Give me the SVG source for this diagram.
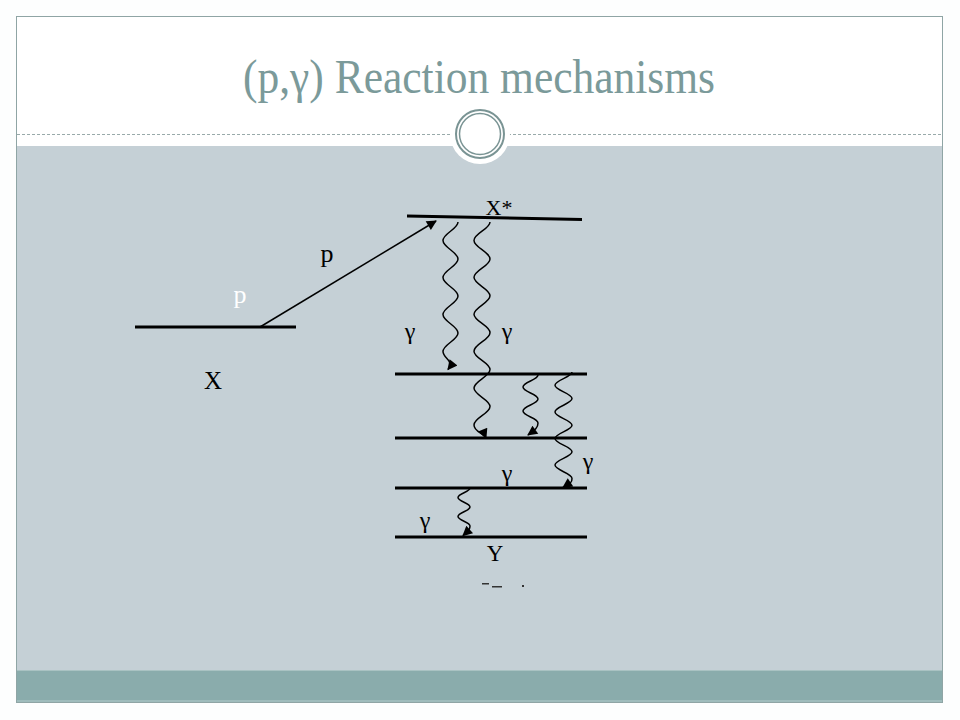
<svg xmlns="http://www.w3.org/2000/svg" width="960" height="720" viewBox="0 0 960 720">
<defs>
<style>
.lvl{stroke:#000;stroke-width:3;fill:none}
.wave{stroke:#000;stroke-width:1.5;fill:none;marker-end:url(#ah)}
.lbl{font-family:"Liberation Serif","Times New Roman",serif;fill:#000;text-anchor:middle}
.gam{font-family:"Liberation Serif","Times New Roman",serif;fill:#000;text-anchor:middle}
</style>
<marker id="ah" viewBox="0 0 10 10" refX="9" refY="5" markerWidth="14" markerHeight="10" markerUnits="userSpaceOnUse" orient="auto"><path d="M0,0 L10,5 L0,10 z" fill="#000"/></marker>
</defs>
<rect x="0" y="0" width="960" height="720" fill="#fdfefe"/>
<g id="frame">
<rect x="16" y="16" width="927" height="130" fill="#ffffff"/>
<rect x="16" y="146" width="927" height="524" fill="#c5d0d6"/>
<rect x="16" y="670" width="927" height="32" fill="#8aacac"/>
<line x1="16" y1="670.5" x2="943" y2="670.5" stroke="#a9c2c2" stroke-width="1"/>
<line x1="16" y1="701" x2="943" y2="701" stroke="#b4cccc" stroke-width="1"/>
<rect x="16.5" y="16.5" width="926" height="686" fill="none" stroke="#8fa5a5" stroke-width="1"/>
<line x1="17" y1="134.5" x2="452" y2="134.5" stroke="#9aa" stroke-width="1" stroke-dasharray="3,2"/>
<line x1="508" y1="134.5" x2="942" y2="134.5" stroke="#9aa" stroke-width="1" stroke-dasharray="3,2"/>
<circle cx="480" cy="134" r="30" fill="#ffffff"/>
<circle cx="480" cy="134" r="24" fill="none" stroke="#7a9494" stroke-width="2"/>
<circle cx="480" cy="134" r="20.5" fill="none" stroke="#7a9494" stroke-width="1.5"/>
</g>
<text id="title" x="479" y="93" font-family="Liberation Serif, Times New Roman, serif" font-size="48" fill="#7b9a9a" text-anchor="middle" textLength="472" lengthAdjust="spacingAndGlyphs">(p,γ) Reaction mechanisms</text>
<g id="level-X"><line class="lvl" x1="135" y1="327" x2="296" y2="327"/><text class="lbl" x="213" y="389" font-size="25">X</text></g>
<g id="level-Xstar"><line class="lvl" x1="407" y1="216" x2="582" y2="219.5"/><text class="lbl" x="499" y="215" font-size="22">X*</text></g>
<g id="level-2"><line class="lvl" x1="395" y1="374" x2="587" y2="374"/></g>
<g id="level-3"><line class="lvl" x1="395" y1="438" x2="587" y2="438"/></g>
<g id="level-4"><line class="lvl" x1="395" y1="488" x2="587" y2="488"/></g>
<g id="level-Y"><line class="lvl" x1="395" y1="537" x2="587" y2="537"/><text class="lbl" x="495" y="561" font-size="23">Y</text></g>
<g id="connectors">
<line x1="260" y1="327" x2="436" y2="221" stroke="#000" stroke-width="1.5" marker-end="url(#ah)"/>
<path class="wave" d="M458,222 c0,7 -15,11.5 -15,18.5 s15,11.5 15,18.5 s-15,11.5 -15,18.5 s15,11.5 15,18.5 s-15,11.5 -15,18.5 s15,11.5 15,18.5 s-15,11.5 -15,18.5 s12,9 5,18"/>
<path class="wave" d="M490,222 c0,7 -16,11.45 -16,18.45 s16,11.45 16,18.45 s-16,11.45 -16,18.45 s16,11.45 16,18.45 s-16,11.45 -16,18.45 s16,11.45 16,18.45 s-16,11.45 -16,18.45 s16,11.45 16,18.45 s-16,11.45 -16,18.45 s16,11.45 16,18.45 s-16,11.45 -16,18.45 s10,8 12,13"/>
<path class="wave" d="M538,375 c0,5 -15,7 -15,12 s15,7 15,12 s-15,7 -15,12 s15,7 15,12 s-3,7 -10,12"/>
<path class="wave" d="M572,372 c0,5 -17,8.3 -17,13.3 s17,8.3 17,13.3 s-17,8.3 -17,13.3 s17,8.3 17,13.3 s-17,8.3 -17,13.3 s17,8.3 17,13.3 s-17,8.3 -17,13.3 s17,8.3 17,13.3 s-3,5 -9,9"/>
<path class="wave" d="M470,488 c0,4 -12,5.5 -12,9.5 s12,5.5 12,9.5 s-12,5.5 -12,9.5 s12,5.5 12,9.5 s-2,5 -7,9.5"/>
</g>
<g id="labels">
<text class="lbl" x="327" y="262" font-size="26">p</text>
<text class="lbl" x="240" y="303" font-size="26" style="fill:#ffffff">p</text>
<text class="gam" x="410" y="339" font-size="24">γ</text>
<text class="gam" x="507" y="339" font-size="24">γ</text>
<text class="gam" x="507" y="481" font-size="24">γ</text>
<text class="gam" x="588" y="469" font-size="24">γ</text>
<text class="gam" x="425" y="528" font-size="24">γ</text>
</g>
<g id="fragments" fill="#333">
<rect x="482" y="583" width="7" height="1.5"/>
<rect x="492" y="586" width="10" height="1.5"/>
<rect x="522" y="585" width="2" height="2"/>
</g>
</svg>
